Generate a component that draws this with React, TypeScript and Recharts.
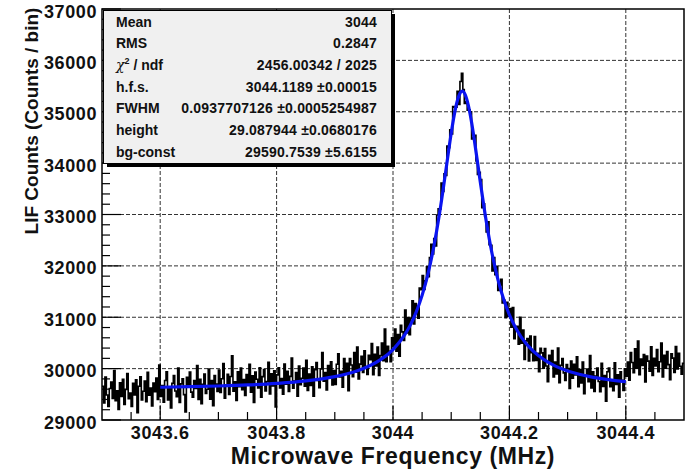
import React from 'react';
import { LineChart, Line, XAxis, YAxis, CartesianGrid, ReferenceArea } from 'recharts';

// Histogram binning (2025-bin spectrum rebinned for display)
const binStart = 3043.5;
const binWidth = 0.0025;
const freqEnd = 3044.5;

// LIF counts per bin, 3043.500 – 3043.750 MHz
const countsFarLeft = [
  29656, 29334, 29838, 29488, 29264, 29614, 29740, 29418, 29964, 29376, 29568, 29204, 29722, 29456, 29792, 29302, 29596, 29904, 29414, 29526,
  29266, 29714, 29490, 29784, 29140, 29658, 29840, 29392, 29560, 29756, 29356, 29930, 29482, 29622, 29272, 29720, 29552, 29818, 29398, 30070,
  29460, 29670, 29348, 29768, 29936, 29390, 29614, 29236, 29712, 29866, 29564, 29452, 30012, 29340, 29704, 29802, 29494, 29158, 29830, 29662,
  29934, 29542, 29444, 29766, 29612, 30060, 29402, 29794, 29318, 29696, 29894, 29516, 29600, 29992, 29404, 29768, 29278, 29866, 29698, 29558,
  29972, 29538, 29804, 30098, 29426, 29678, 29888, 29496, 29846, 30252, 29562, 29744, 29380, 29940, 29646, 30010, 29590, 29786, 29478, 29884,
];

// 3043.750 – 3044.000 MHz
const countsLeft = [
  29694, 30086, 29540, 29862, 29344, 29932, 29792, 29624, 30016, 29442, 29844, 29984, 29564, 29746, 30124, 29508, 29900, 29662, 29956, 29256,
  29878, 30018, 29626, 29808, 29500, 30088, 29696, 29948, 29556, 29850, 30206, 29618, 29758, 29926, 29464, 30052, 29688, 29814, 30010, 29660,
  30162, 29574, 29896, 29672, 30036, 29462, 29980, 30120, 29770, 29630, 29992, 30314, 29754, 29922, 29586, 30062, 29852, 30132, 29684, 29964,
  29692, 30084, 30290, 29838, 29950, 29638, 30194, 29914, 30106, 29570, 30196, 30070, 29842, 30314, 29932, 30418, 29798, 30088, 30238, 29926,
  30346, 30006, 29886, 30260, 30172, 30486, 29880, 30278, 30050, 30420, 29866, 30254, 30498, 30154, 30772, 30134, 30434, 30338, 30134, 30598,
];

// 3044.000 – 3044.250 MHz (resonance)
const countsPeak = [
  30432, 30770, 30338, 30662, 30240, 30844, 30716, 30546, 31142, 30692, 30994, 30662, 30978, 31318, 30870, 31266, 31140, 30982, 31566, 31534,
  31810, 31540, 31710, 31980, 31790, 32160, 32420, 32230, 32530, 32390, 32990, 33110, 33110, 33610, 33450, 33790, 33760, 34330, 34300, 34650,
  34570, 35100, 35090, 35090, 35400, 35140, 35590, 35750, 35430, 35160, 35200, 35030, 35040, 35000, 34470, 34500, 34540, 34040, 33780, 33820,
  33680, 33130, 33210, 32970, 32660, 32860, 32410, 32400, 31900, 32160, 31830, 31990, 31520, 31630, 31740, 31280, 31330, 30990, 31290, 31020,
  31168, 30804, 31188, 30582, 30784, 30822, 30474, 30998, 30496, 30750, 30178, 30540, 30584, 30148, 30636, 30312, 30152, 30626, 30158, 30296,
];

// 3044.250 – 3044.500 MHz
const countsRight = [
  29940, 30396, 30306, 30006, 30392, 30050, 29746, 30258, 30112, 30354, 29840, 30128, 29894, 30402, 29724, 30064, 30194, 29918, 29768, 30080,
  30000, 29612, 30148, 29812, 30082, 29876, 30230, 29646, 29982, 29720, 30130, 29514, 29868, 29994, 29746, 30254, 29624, 29936, 29558, 29856,
  30010, 29748, 29552, 30102, 29654, 29864, 29364, 29938, 30012, 29648, 29774, 29568, 30114, 29694, 29880, 29446, 29936, 29772, 29576, 29996,
  29852, 30126, 29774, 30314, 30118, 29922, 30384, 30006, 30538, 29880, 30188, 30062, 30272, 29740, 30244, 30146, 29950, 30426, 29866, 30202,
  30050, 30372, 29938, 30134, 30498, 29840, 30260, 30008, 30330, 30078, 29784, 30288, 30204, 29924, 30428, 29994, 30298, 30046, 29892, 30102,
];

// Lorentzian fit curve (h.f.s. 3044.1189 MHz, bg-const 29590.75)
const fitFreq = [
  3043.6, 3043.65, 3043.7, 3043.75, 3043.8, 3043.85, 3043.9, 3043.92, 3043.94, 3043.96, 3043.98,
  3044.0, 3044.02, 3044.03, 3044.04, 3044.05, 3044.06, 3044.07, 3044.08, 3044.09, 3044.1, 3044.105,
  3044.11, 3044.115, 3044.1189, 3044.124, 3044.13, 3044.135, 3044.14, 3044.15, 3044.16, 3044.17,
  3044.18, 3044.19, 3044.2, 3044.21, 3044.22, 3044.24, 3044.26, 3044.28, 3044.3, 3044.32, 3044.34,
  3044.37, 3044.4,
];
const fitCounts = [
  29637, 29648, 29662, 29682, 29713, 29761, 29845, 29896, 29963, 30055, 30184,
  30371, 30655, 30852, 31104, 31426, 31839, 32367, 33024, 33793, 34581, 34925,
  35194, 35358, 35400, 35335, 35097, 34794, 34429, 33633, 32883, 32251,
  31748, 31354, 31048, 30809, 30620, 30349, 30169, 30044, 29955, 29890, 29840,
  29786, 29747,
];

// Axis ticks
const xMajorTicks = [3043.6, 3043.8, 3044, 3044.2, 3044.4];
const xMinorTicks = [3043.55, 3043.65, 3043.7, 3043.75, 3043.85, 3043.9, 3043.95, 3044.05, 3044.1, 3044.15, 3044.25, 3044.3, 3044.35, 3044.45];
const yMajorTicks = [29000, 30000, 31000, 32000, 33000, 34000, 35000, 36000, 37000];
const yMinorTicks = [
  29200, 29400, 29600, 29800, 30200, 30400, 30600, 30800, 31200, 31400, 31600, 31800,
  32200, 32400, 32600, 32800, 33200, 33400, 33600, 33800, 34200, 34400, 34600, 34800,
  35200, 35400, 35600, 35800, 36200, 36400, 36600, 36800,
];
const xGridValues = xMajorTicks;
const yGridValues = [30000, 31000, 32000, 33000, 34000, 35000, 36000];

// Fit statistics panel
const statsLabels = ['Mean', 'RMS', 'chi2', 'h.f.s.', 'FWHM', 'height', 'bg-const'];
const statsValues = [
  '3044',
  '0.2847',
  '2456.00342 / 2025',
  '3044.1189 \u00b10.00015',
  '0.0937707126 \u00b10.0005254987',
  '29.087944 \u00b10.0680176',
  '29590.7539 \u00b15.6155',
];

const allCounts = [...countsFarLeft, ...countsLeft, ...countsPeak, ...countsRight];
const histData = allCounts.map((c, i) => ({ f: binStart + i * binWidth, c }));
histData.push({ f: freqEnd, c: allCounts[allCounts.length - 1] });
const fitData = fitFreq.map((f, i) => ({ f, c: fitCounts[i] }));

const FONT = '"Liberation Sans", Arial, Helvetica, sans-serif';
const W = 692;
const H = 475;

const YTick = (props: any) => {
  const { x, y, payload } = props;
  const v = payload.value as number;
  const major = yMajorTicks.includes(v);
  return (
    <g>
      <line x1={x} x2={x + (major ? 19 : 8)} y1={y} y2={y} stroke="#000" strokeWidth={1.2} />
      {major && (
        <text
          x={x - 5}
          y={y + 8.5}
          textAnchor="end"
          fontFamily={FONT}
          fontWeight="bold"
          fontSize={18}
          letterSpacing={0.6}
          fill="#111"
        >
          {v}
        </text>
      )}
    </g>
  );
};

const XTick = (props: any) => {
  const { x, y, payload } = props;
  const v = payload.value as number;
  const major = xMajorTicks.includes(v);
  return (
    <g>
      <line x1={x} x2={x} y1={y} y2={y - (major ? 14 : 8)} stroke="#000" strokeWidth={1.2} />
      {major && (
        <text
          x={x}
          y={y + 19}
          textAnchor="middle"
          fontFamily={FONT}
          fontWeight="bold"
          fontSize={18}
          letterSpacing={0.6}
          fill="#111"
        >
          {String(v)}
        </text>
      )}
    </g>
  );
};

const StatsBox = () => {
  const left = 103;
  const top = 10;
  const w = 288;
  const h = 153;
  const rowY = [26.7, 48.3, 70, 91.7, 113.3, 135, 156.7];
  return (
    <svg
      width={W}
      height={H}
      style={{ position: 'absolute', left: 0, top: 0, pointerEvents: 'none' }}
    >
      <rect x={left + 4} y={top + 4} width={w} height={h} fill="#000" />
      <rect x={left + 0.5} y={top + 0.5} width={w} height={h} fill="#f0f0f0" stroke="#000" strokeWidth={1} />
      {statsLabels.map((lab, i) => (
        <text
          key={lab}
          x={116}
          y={rowY[i]}
          fontFamily={FONT}
          fontWeight="bold"
          fontSize={14}
          fill="#111"
        >
          {lab === 'chi2' ? (
            <>
              <tspan fontStyle="italic" fontFamily="'DejaVu Serif', serif" fontWeight="normal">χ</tspan>
              <tspan fontSize={9} dy={-6}>2</tspan>
              <tspan dy={6}> / ndf</tspan>
            </>
          ) : (
            lab
          )}
        </text>
      ))}
      {statsValues.map((val, i) => (
        <text
          key={i}
          x={377}
          y={rowY[i]}
          textAnchor="end"
          fontFamily={FONT}
          fontWeight="bold"
          fontSize={14}
          letterSpacing={0.2}
          fill="#111"
        >
          {val}
        </text>
      ))}
    </svg>
  );
};

export default function App() {
  return (
    <div style={{ position: 'absolute', left: 0, top: 0, width: W, height: H, background: '#fff' }}>
      <LineChart width={W} height={H} margin={{ top: 9, right: 8, bottom: 0, left: 0 }}>
        <CartesianGrid
          horizontalValues={yGridValues}
          verticalValues={xGridValues}
          stroke="#333"
          strokeDasharray="4 2"
          strokeWidth={1}
        />
        <XAxis
          type="number"
          dataKey="f"
          domain={[binStart, freqEnd]}
          ticks={[...xMajorTicks, ...xMinorTicks]}
          interval={0}
          allowDataOverflow
          axisLine={false}
          tickLine={false}
          tickSize={0}
          tickMargin={0}
          height={55}
          tick={<XTick />}
        />
        <YAxis
          type="number"
          domain={[29000, 37000]}
          ticks={[...yMajorTicks, ...yMinorTicks]}
          interval={0}
          allowDataOverflow
          axisLine={false}
          tickLine={false}
          tickSize={0}
          tickMargin={0}
          width={102}
          tick={<YTick />}
        />
        <Line
          data={histData}
          dataKey="c"
          type="stepAfter"
          stroke="#000"
          strokeWidth={1.6}
          dot={false}
          isAnimationActive={false}
        />
        <Line
          data={fitData}
          dataKey="c"
          type="monotone"
          stroke="#0a14f0"
          strokeWidth={3.2}
          dot={false}
          isAnimationActive={false}
        />
        <ReferenceArea
          x1={binStart}
          x2={freqEnd}
          y1={29000}
          y2={37000}
          fill="none"
          stroke="#000"
          strokeWidth={1.5}
          ifOverflow="visible"
        />
      </LineChart>
      <StatsBox />
      <svg width={W} height={H} style={{ position: 'absolute', left: 0, top: 0, pointerEvents: 'none' }}>
        <text
          x={393}
          y={464}
          textAnchor="middle"
          fontFamily={FONT}
          fontWeight="bold"
          fontSize={23}
          letterSpacing={0.6}
          fill="#111"
        >
          Microwave Frequency (MHz)
        </text>
        <text
          transform="translate(37.5,121) rotate(-90)"
          textAnchor="middle"
          fontFamily={FONT}
          fontWeight="bold"
          fontSize={19}
          fill="#111"
        >
          LIF Counts (Counts / bin)
        </text>
      </svg>
    </div>
  );
}
